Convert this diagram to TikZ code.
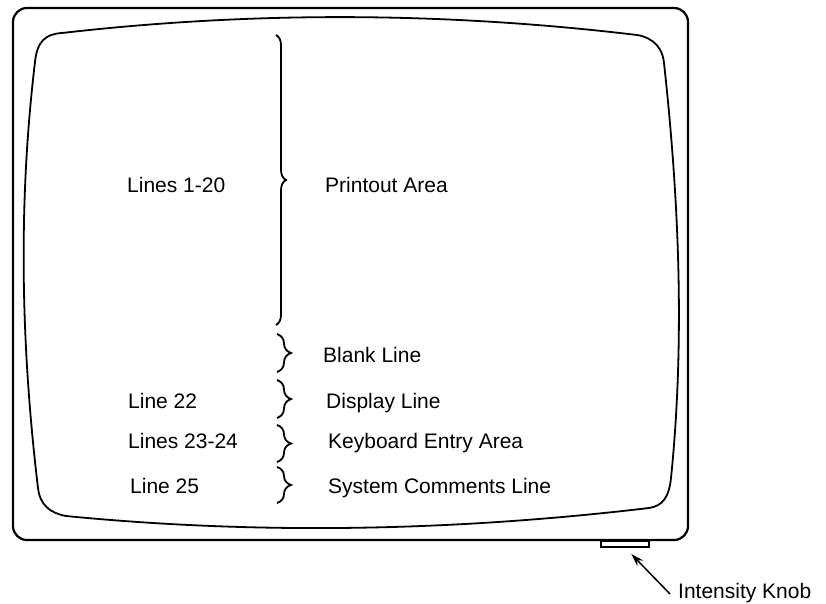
\documentclass[tikz,border=0pt]{standalone}
\usepackage{fontspec}
\setmainfont{Liberation Sans}
\usetikzlibrary{decorations.pathreplacing,arrows.meta}

\begin{document}
\begin{tikzpicture}[x=1pt,y=-1pt,
  label/.style={anchor=base west,inner sep=0pt,font=\fontsize{21}{24}\selectfont},
  curly/.style={decorate,decoration={brace,amplitude=#1},line width=1.8pt},
  curly/.default=14pt,
  frame/.style={line width=2.2pt,rounded corners=14pt},
  screen/.style={line width=1.8pt},
  pointer/.style={-{Stealth[length=13pt,width=8pt]},line width=1.5pt}]
\useasboundingbox (0,0) rectangle (826,604);

% cabinet
\draw[frame] (13,8) rectangle (688,540);

% curved picture tube face
\draw[screen] (35,62) .. controls (37,42) and (45,34) .. (62,33)
  .. controls (254,11) and (445,12) .. (637,35)
  .. controls (655,38) and (663,50) .. (664,63)
  .. controls (679,200) and (685,340) .. (671,478)
  .. controls (669,498) and (662,506) .. (649,508)
  .. controls (455,531) and (260,535) .. (66,516)
  .. controls (50,513) and (40,505) .. (38,488)
  .. controls (21,346) and (18,204) .. (35,62) -- cycle;

% brightness control under the cabinet
\node[draw,line width=1.5pt,minimum width=48pt,minimum height=6pt,inner sep=0pt,anchor=north] (knob) at (625,540) {};

% screen regions
\draw[curly=10pt] (276,35) -- (276,325);
\draw[curly] (277,334) -- (277,372);
\draw[curly] (277,380) -- (277,418);
\draw[curly] (277,425) -- (277,462);
\draw[curly] (277,467) -- (277,503);

\node[label] (l120) at (127,193) {Lines 1-20};
\node[label] (print) at (325,193) {Printout Area};
\node[label] (blank) at (323,362) {Blank Line};
\node[label] (l22) at (128,408) {Line 22};
\node[label] (disp) at (326,408) {Display Line};
\node[label] (l2324) at (128,448) {Lines 23-24};
\node[label] (kbd) at (328,448) {Keyboard Entry Area};
\node[label] (l25) at (130,493) {Line 25};
\node[label] (sys) at (328,493) {System Comments Line};

% knob callout
\node[label] (knoblabel) at (678,598) {Intensity Knob};
\coordinate (tail) at (670,594);
\draw[pointer,shorten >=9pt] (tail) -- (knob.south);
\end{tikzpicture}
\end{document}
